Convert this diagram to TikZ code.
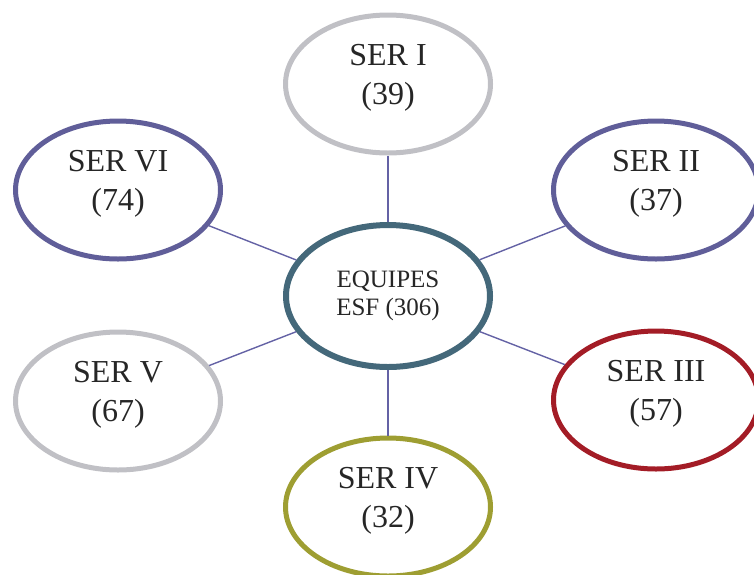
\documentclass[tikz,border=0pt]{standalone}
\usepackage{fontspec}
\setmainfont{Liberation Serif}
\usepackage{xcolor}
\usetikzlibrary{shapes.geometric}

\definecolor{serGray}{RGB}{192,192,197}
\definecolor{serPurple}{RGB}{96,94,153}
\definecolor{serTeal}{RGB}{68,104,122}
\definecolor{serRed}{RGB}{163,28,38}
\definecolor{serOlive}{RGB}{158,158,50}
\definecolor{linkPurple}{RGB}{100,98,165}

\begin{document}
\begin{tikzpicture}[
    x=1pt, y=-1pt,
    bubble/.style={ellipse, draw, fill=white, inner sep=0pt,
        align=center, text=black!85},
    ser/.style={bubble, line width=5pt,
        minimum width=205pt, minimum height=138pt, text depth=19pt,
        font=\fontsize{32}{39}\selectfont},
    hub/.style={bubble, line width=6pt, draw=serTeal,
        minimum width=204pt, minimum height=142pt,
        font=\fontsize{25}{28}\selectfont},
    link/.style={line width=1.4pt, color=linkPurple}
]

\useasboundingbox (0,0) rectangle (754,574);
\clip (0,0) rectangle (754,574);

% Central team
\node[hub] (esf) at (388,296) {EQUIPES\\ESF (306)};

% Regions around it
\node[ser, draw=serGray] (serI) at (388,84) {SER I\\(39)};
\node[ser, draw=serPurple] (serII) at (656,190) {SER II\\(37)};
\node[ser, draw=serRed] (serIII) at (656,400) {SER III\\(57)};
\node[ser, draw=serOlive] (serIV) at (388,507) {SER IV\\(32)};
\node[ser, draw=serGray] (serV) at (118,401) {SER V\\(67)};
\node[ser, draw=serPurple] (serVI) at (118,190) {SER VI\\(74)};

% Links
\foreach \n in {serI, serII, serIII, serIV, serV, serVI}
    \draw[link] (esf) -- (\n);

\end{tikzpicture}
\end{document}
